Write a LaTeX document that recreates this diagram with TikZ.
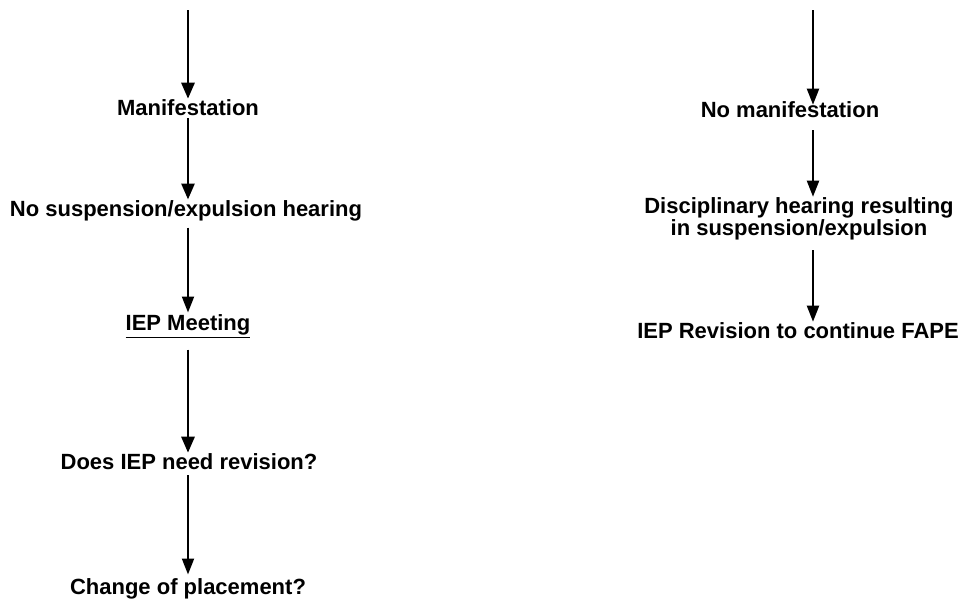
\documentclass[tikz,border=0pt]{standalone}
\usepackage{fontspec}
\setmainfont{Liberation Sans}
\usetikzlibrary{arrows.meta}
\begin{document}
\begin{tikzpicture}[x=1pt,y=-1pt,
  txt/.style={font=\fontsize{22}{20}\selectfont\bfseries, inner sep=0pt, align=center, text=black},
  arr/.style={line width=2.8pt, -{Triangle[length=16pt,width=13pt]}},
  arrthin/.style={line width=2pt, -{Triangle[length=16pt,width=12pt]}}]
\useasboundingbox[fill=white] (0,0) rectangle (964,603);
% left column
\coordinate (ltop) at (188,10);
\node[txt] (L1) at (188,108) {Manifestation};
\node[txt] (L2) at (186,211) {No suspension/expulsion hearing};
\node[txt] (L3) at (188,326) {\underline{IEP Meeting}};
\node[txt] (L4) at (189,462) {Does IEP need revision?};
\node[txt] (L5) at (188,589) {Change of placement?};
\draw[arr] (ltop) -- ([yshift=1pt]L1.north -| ltop);
\draw[arr] ([yshift=-2pt]L1.south -| ltop) -- ([yshift=1pt]L2.north -| ltop);
\draw[arrthin] ([yshift=-6pt]L2.south -| ltop) -- ([yshift=2pt]L3.north -| ltop);
\draw[arr] ([yshift=-12pt]L3.south -| ltop) -- ([yshift=1pt]L4.north -| ltop);
\draw[arrthin] ([yshift=-5pt]L4.south -| ltop) -- ([yshift=4pt]L5.north -| ltop);
% right column
\coordinate (rtop) at (813,10);
\node[txt] (R1) at (790,110) {No manifestation};
\node[txt] (R2) at (799,219) {Disciplinary hearing resulting\\in suspension/expulsion};
\node[txt] (R3) at (798,331) {IEP Revision to continue FAPE};
\draw[arrthin] (rtop) -- ([yshift=-3pt]R1.north -| rtop);
\draw[arrthin] ([yshift=-12pt]R1.south -| rtop) -- ([yshift=1pt]R2.north -| rtop);
\draw[arrthin] ([yshift=-10pt]R2.south -| rtop) -- ([yshift=1pt]R3.north -| rtop);
\end{tikzpicture}
\end{document}
